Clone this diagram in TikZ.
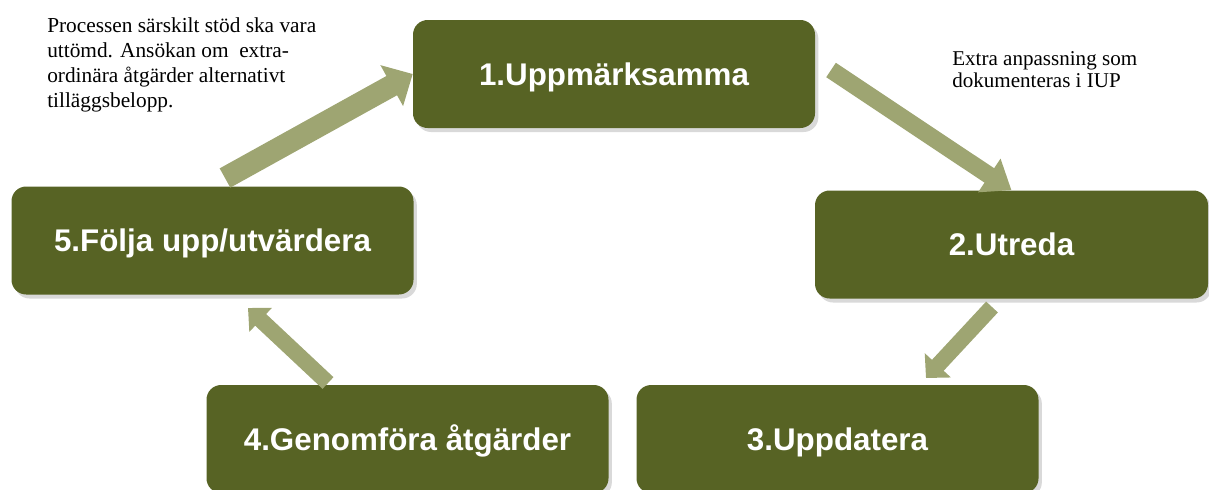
\documentclass[tikz,border=0pt]{standalone}
\usepackage{fontspec}
\setmainfont{Liberation Serif}
\newfontfamily\arialfont{Liberation Sans}
\usetikzlibrary{arrows.meta}
\usetikzlibrary{shadows}
\definecolor{mgreen}{RGB}{87,99,36}
\definecolor{mlight}{RGB}{158,165,114}

\tikzset{
  stepbox/.style={fill=mgreen, rounded corners=11pt, minimum width=301.5pt, minimum height=81pt,
    text=white, font=\arialfont\bfseries\fontsize{23.5}{28}\selectfont,
    text height=17pt, text depth=0pt,
    drop shadow={opacity=0.3, shadow xshift=2.5pt, shadow yshift=-3pt}},
  flow/.style={mlight, line width=#1},
  note/.style={anchor=north west, inner sep=0pt, align=left}
}

\begin{document}
\begin{tikzpicture}[x=0.75pt, y=-0.75pt]
    \useasboundingbox (0,0) rectangle (1209,489);

    \node [stepbox] (box1) at (614,74) {1.Uppmärksamma};
    \node [stepbox, minimum width=294.75pt] (box2) at (1011.5,244.5) {2.Utreda};
    \node [stepbox] (box3) at (837.5,439) {3.Uppdatera};
    \node [stepbox] (box4) at (407.5,439) {4.Genomföra åtgärder};
    \node [stepbox] (box5) at (212.5,240.5) {5.Följa upp/utvärdera};

    \coordinate (t1) at (225,178);
    \coordinate (t2) at (831,70);
    \coordinate (t3) at (992,307);
    \coordinate (h3) at (926,378);
    \coordinate (t4) at (328,383);
    \coordinate (h4) at (248,308);

    \draw [flow=16.5pt, -{Triangle[width=34pt, length=18pt]}] (t1) -- (box1.west);
    \draw [flow=13pt, -{Triangle[width=29pt, length=20pt]}] (t2) -- (box2.north);
    \draw [flow=12pt, -{Triangle[width=26pt, length=13pt]}] (t3) -- (h3);
    \draw [flow=12pt, -{Triangle[width=24pt, length=13pt]}] (t4) -- (h4);

    \node [note, font=\fontsize{16}{18.75}\selectfont] (note1) at (47,17)
      {Processen särskilt stöd ska vara\\uttömd. Ansökan om \ extra-\\ordinära åtgärder alternativt\\tilläggsbelopp.};
    \node [note, font=\fontsize{15.8}{16.5}\selectfont] (note2) at (952,51)
      {Extra anpassning som\\dokumenteras i IUP};
  \end{tikzpicture}
\end{document}
